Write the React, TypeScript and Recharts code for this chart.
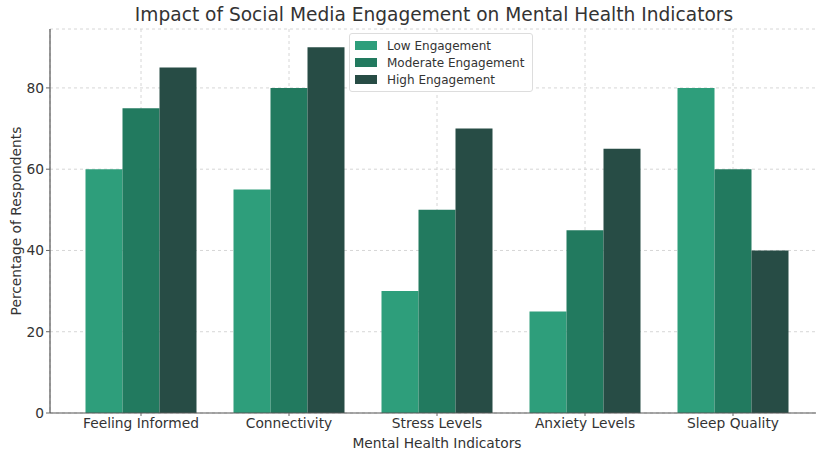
import React from 'react'
import { BarChart, Bar, XAxis, YAxis, CartesianGrid } from 'recharts'

const CATEGORIES = ['Feeling Informed', 'Connectivity', 'Stress Levels', 'Anxiety Levels', 'Sleep Quality']
const LOW = [60, 55, 30, 25, 80]
const MODERATE = [75, 80, 50, 45, 60]
const HIGH = [85, 90, 70, 65, 40]
const Y_TICKS = [0, 20, 40, 60, 80]

const SERIES = [
  { key: 'low', label: 'Low Engagement', color: '#2e9e7b' },
  { key: 'moderate', label: 'Moderate Engagement', color: '#227a5f' },
  { key: 'high', label: 'High Engagement', color: '#274c45' },
]

const data = CATEGORIES.map((name, i) => ({ name, low: LOW[i], moderate: MODERATE[i], high: HIGH[i] }))

const FONT = 'DejaVu Sans, sans-serif'

function LegendBox() {
  return (
    <div style={{ position: 'absolute', top: 33, left: 349, background: '#fff', border: '1px solid #ddd', borderRadius: 3, padding: '3px 8px 3px 5px', fontFamily: FONT, fontSize: 12, color: '#333' }}>
      {SERIES.map(s => (
        <div key={s.key} style={{ display: 'flex', alignItems: 'center', height: 17 }}>
          <span style={{ width: 22, height: 9, background: s.color, marginRight: 10, display: 'inline-block' }} />
          {s.label}
        </div>
      ))}
    </div>
  )
}

export default function App() {
  return (
    <div style={{ position: 'absolute', left: 0, top: 0, width: 816, height: 450, overflow: 'hidden', background: '#fff' }}>
      <div style={{ position: 'absolute', top: 4, left: 0, width: 868, textAlign: 'center', fontFamily: FONT, fontSize: 18.6, color: '#333' }}>
        Impact of Social Media Engagement on Mental Health Indicators
      </div>
      <BarChart width={824} height={450} data={data} margin={{ top: 29, right: 0, left: 0, bottom: 0 }}
        barCategoryGap="12.5%" barGap={0}>
        <CartesianGrid strokeDasharray="3 3" stroke="#d6d6d6" />
        <XAxis dataKey="name" padding={{ left: 17, right: 17 }} height={37}
          tick={{ fill: '#333', fontSize: 13.8, fontFamily: FONT }} tickLine={{ stroke: '#666' }} tickSize={3}
          axisLine={{ stroke: '#555', strokeWidth: 1.2 }}
          label={{ value: 'Mental Health Indicators', position: 'insideBottom', offset: 2, fill: '#333', fontSize: 13.8, fontFamily: FONT }} />
        <YAxis width={50} domain={[0, 94.5]} ticks={Y_TICKS} allowDataOverflow
          tick={{ fill: '#333', fontSize: 13.8, fontFamily: FONT }} tickLine={{ stroke: '#666' }} tickSize={4}
          axisLine={{ stroke: '#555', strokeWidth: 1.2 }}
          label={{ value: 'Percentage of Respondents', angle: -90, position: 'insideLeft', offset: 16, fill: '#333', fontSize: 13.8, fontFamily: FONT, style: { textAnchor: 'middle' } }} />
        {SERIES.map(s => (
          <Bar key={s.key} dataKey={s.key} name={s.label} fill={s.color} isAnimationActive={false} />
        ))}
      </BarChart>
      <LegendBox />
    </div>
  )
}
